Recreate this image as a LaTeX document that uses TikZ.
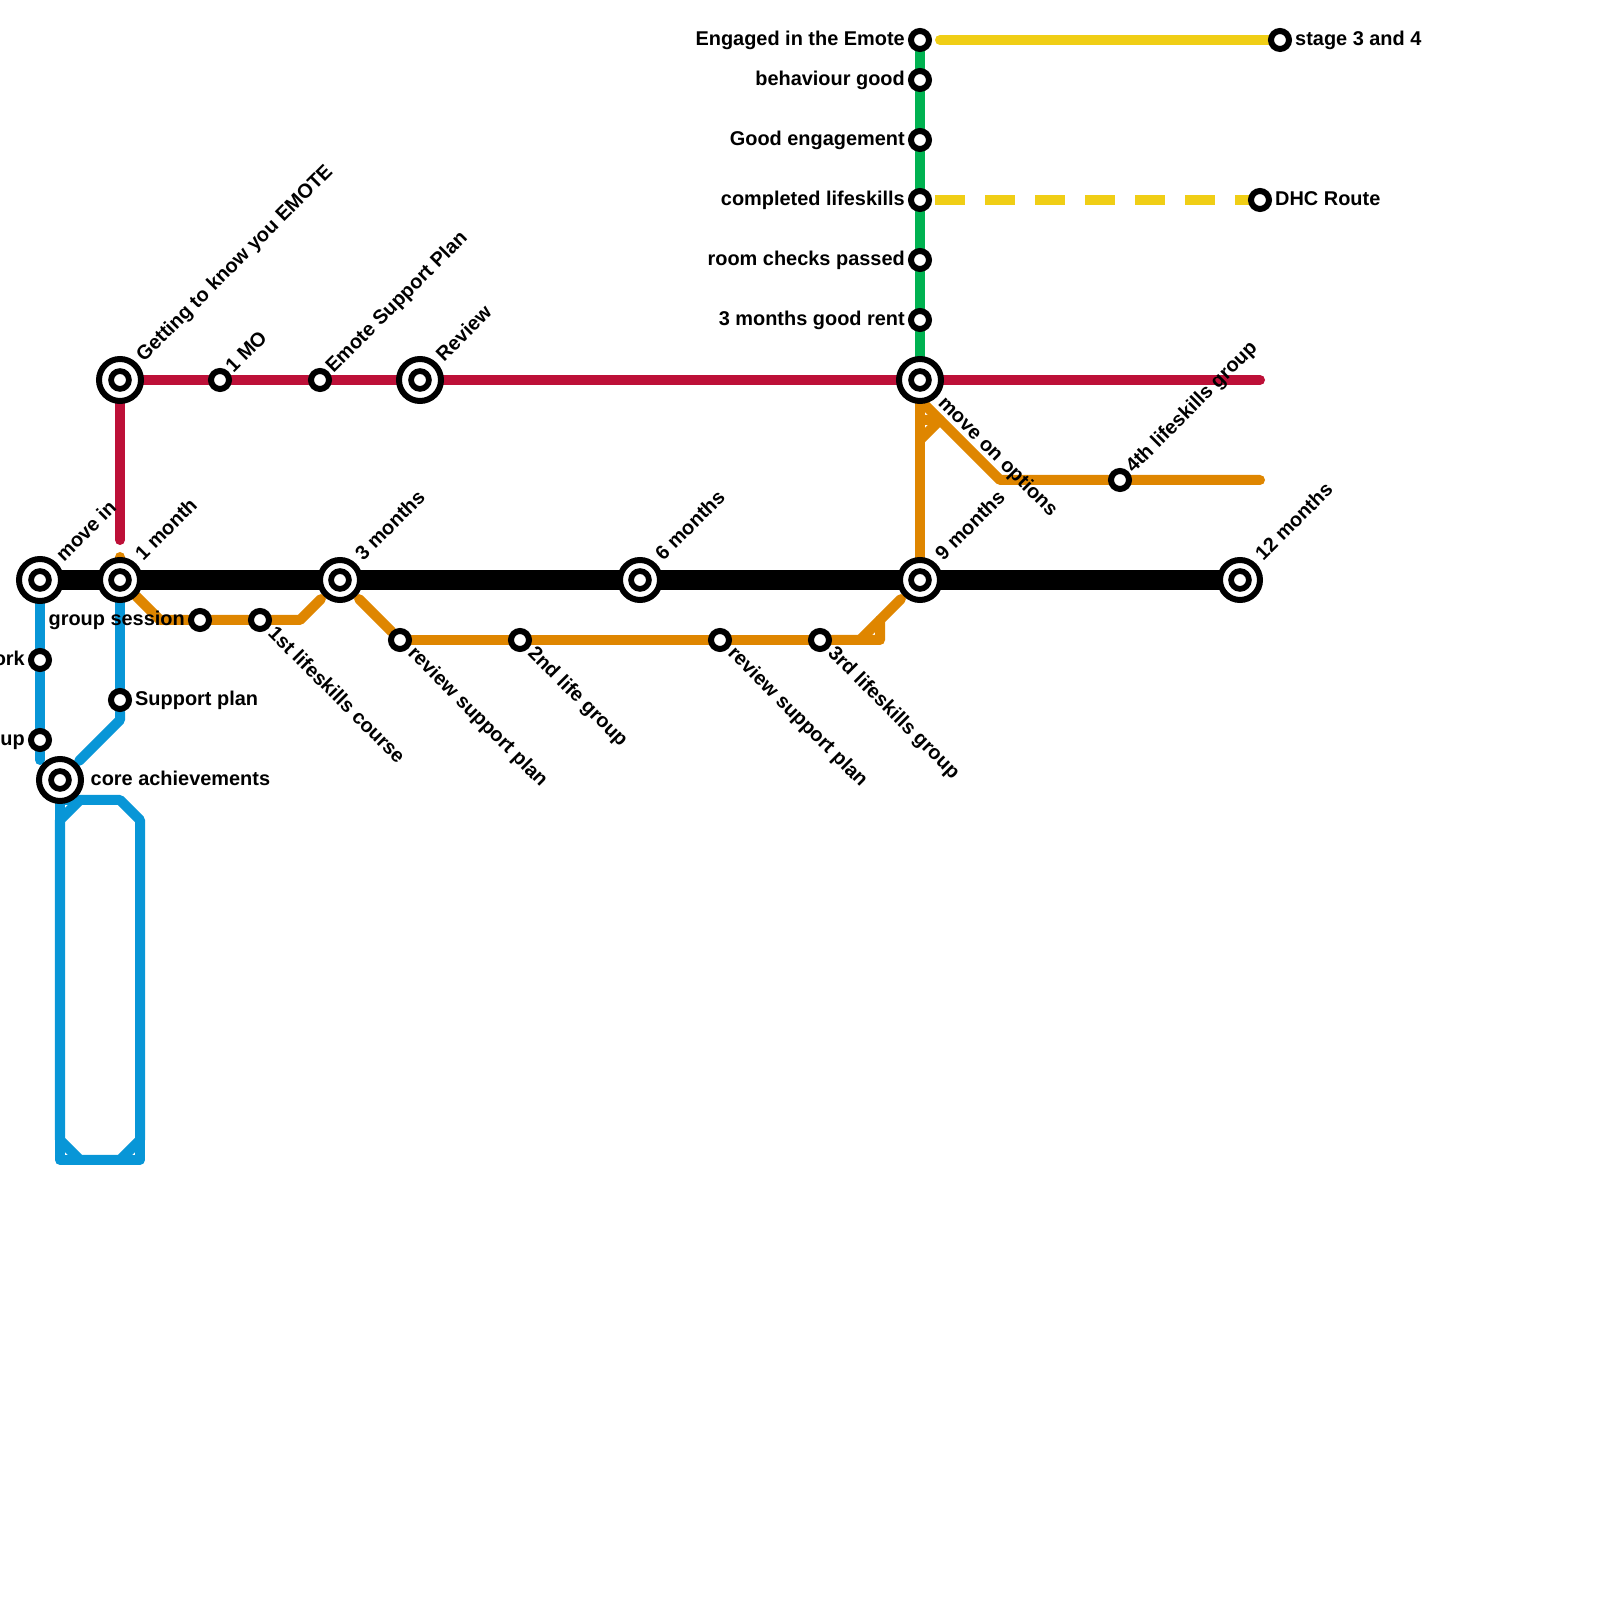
\documentclass[tikz,border=0pt]{standalone}
\usepackage{fontspec}
\setmainfont{Liberation Sans}
\usetikzlibrary{backgrounds}
\definecolor{lineblue}{HTML}{0896D7}
\definecolor{lineorange}{HTML}{DF8600}
\definecolor{linered}{HTML}{BD1038}
\definecolor{linegreen}{HTML}{00B251}
\definecolor{lineyellow}{HTML}{F0CE15}

\begin{document}
\begin{tikzpicture}[x=0.2cm,y=0.2cm,
		every label/.style={font=\bfseries\fontsize{5.67}{6.8}\selectfont,inner sep=0pt,label distance=.025cm,text height=.15cm,text depth=.03cm,text=black},
		lne/.style={rotate=45,anchor=west,text height=.21cm,text depth=.02cm},
		lse/.style={rotate=-45,anchor=west,text height=.07cm,text depth=.07cm},
		lnes/.style={rotate=45,anchor=west,label distance=.02cm,text height=.15cm,text depth=.02cm},
		lses/.style={rotate=-45,anchor=west,label distance=.035cm,text height=.125cm,text depth=.07cm},
		stn/.style={circle,draw=black,fill=white,line width=.06cm,minimum size=.18cm,inner sep=0pt},
		hub/.style={circle,draw=black,fill=white,line width=.06cm,minimum size=.42cm,inner sep=0pt,path picture={\draw[black,line width=.057cm] (path picture bounding box.center) circle (.089cm);}},
		hubm/.style={hub,minimum size=.40cm},
		track/.style={line width=.1cm,line cap=round,line join=round}]
	\useasboundingbox (0,0) rectangle (80,80);

	\node[hub,label={[lne,label distance=.07cm]45:move in}] (m0) at (2,51) {};
	\node[hubm,label={[lne,label distance=.085cm]45:1 month}] (m1) at (6,51) {};
	\node[hubm,label={[lne,label distance=.085cm]45:3 months}] (m3) at (17,51) {};
	\node[hubm,label={[lne,label distance=.085cm]45:6 months}] (m6) at (32,51) {};
	\node[hubm,label={[lne,label distance=.085cm]45:9 months}] (m9) at (46,51) {};
	\node[hubm,label={[lne,label distance=.085cm]45:12 months}] (m12) at (62,51) {};

	\node[hub,label={[lne,label distance=.07cm]45:Getting to know you EMOTE}] (r1) at (6,61) {};
	\node[stn,label={[lnes]45:1 MO}] (r2) at (11,61) {};
	\node[stn,label={[lnes]45:Emote Support Plan}] (r3) at (16,61) {};
	\node[hub,label={[lne,label distance=.07cm]45:Review}] (r4) at (21,61) {};
	\node[hub,label={[lse,label distance=.07cm]-45:move on options}] (r5) at (46,61) {};
	\coordinate (r0) at (6,53);
	\coordinate (r6) at (63,61);

	\node[stn,label=left:Engaged in the Emote] (g1) at (46,78) {};
	\node[stn,label=left:behaviour good] (g2) at (46,76) {};
	\node[stn,label=left:Good engagement] (g3) at (46,73) {};
	\node[stn,label=left:completed lifeskills] (g4) at (46,70) {};
	\node[stn,label=left:room checks passed] (g5) at (46,67) {};
	\node[stn,label=left:3 months good rent] (g6) at (46,64) {};

	\coordinate (y0) at (47,78);
	\node[stn,label=right:stage 3 and 4] (y1) at (64,78) {};
	\node[stn,label=right:DHC Route] (y2) at (63,70) {};

	\node[stn,label={[lnes]45:4th lifeskills group}] (u1) at (56,56) {};
	\coordinate (u0) at (50,56);
	\coordinate (u2) at (63,56);
	\coordinate (u3) at (46,60);
	\coordinate (u4) at (46,58);
	\coordinate (u5) at (47,59);
	\coordinate (u6) at (46,59);

	\node[stn,label=left:group session] (o1) at (10,49) {};
	\node[stn,label={[lses]-45:1st lifeskills course}] (o2) at (13,49) {};
	\node[stn,label={[lses]-45:review support plan}] (o3) at (20,48) {};
	\node[stn,label={[lses]-45:2nd life group}] (o4) at (26,48) {};
	\node[stn,label={[lses]-45:review support plan}] (o5) at (36,48) {};
	\node[stn,label={[lses]-45:3rd lifeskills group}] (o6) at (41,48) {};
	\coordinate (o0) at (6,52);
	\coordinate (oa) at (8,49);
	\coordinate (ob) at (15,49);
	\coordinate (oc) at (44,48);
	\coordinate (of) at (44,49);
	\coordinate (og) at (43,48);

	\node[stn,label=left:ork] (b1) at (2,47) {};
	\node[stn,label=left:up] (b2) at (2,43) {};
	\node[stn,label=right:Support plan] (b3) at (6,45) {};
	\node[hub,label={[label distance=.06cm]right:core achievements}] (b4) at (3,41) {};
	\coordinate (b0) at (2,42);
	\coordinate (ba) at (6,44);

	\begin{scope}[on background layer]
		\draw[track,line width=.2cm,line cap=butt] (m0.center) -- (m12.center);

		\draw[track,color=lineblue] (m0) -- (b1) -- (b2) -- (b0);
		\draw[track,color=lineblue] (m1) -- (b3);
		\draw[track,color=lineblue,shorten >=.03cm] (b3) -- (ba) -- (b4);
		\draw[track,color=lineblue] (3,39) -- (4,40) -- (6,40) -- (7,39) -- (7,23) -- (6,22) -- (4,22) -- (3,23) -- (3,39);
		\draw[track,color=lineblue] (3,39) -- (b4);
		\draw[track,color=lineblue] (3,23) -- (3,22) -- (4,22);
		\draw[track,color=lineblue] (7,23) -- (7,22) -- (6,22);
		\draw[track,color=lineblue] (4,40) -- (3,40);

		\draw[track,color=linegreen] (r5) -- (g6) -- (g5) -- (g4) -- (g3) -- (g2) -- (g1);
		\draw[track,color=linered] (r0) -- (r1) -- (r2) -- (r3) -- (r4) -- (r5) -- (r6);
		\draw[track,color=lineyellow] (y0) -- (y1);
		\draw[track,color=lineyellow,dash pattern=on .3cm off .2cm,dash phase=.35cm,line cap=butt] (g4.center) -- (y2.center);

		\draw[track,color=lineorange] (o0) -- (m1) -- (oa) -- (o1) -- (o2);
		\draw[track,color=lineorange,shorten >=.04cm] (o2) -- (ob) -- (m3);
		\draw[track,color=lineorange,shorten <=.04cm] (m3) -- (o3);
		\draw[track,color=lineorange] (o3) -- (o4) -- (o5) -- (o6);
		\draw[track,color=lineorange,shorten >=.04cm] (o6) -- (oc) -- (of) -- (m9);
		\draw[track,color=lineorange] (og) -- (of);
		\draw[track,color=lineorange] (r5) -- (m9);
		\draw[track,color=lineorange] (u3) -- (u0) -- (u1) -- (u2);
		\draw[track,color=lineorange] (u4) -- (u5) -- (u6);
	\end{scope}
\end{tikzpicture}
\end{document}
